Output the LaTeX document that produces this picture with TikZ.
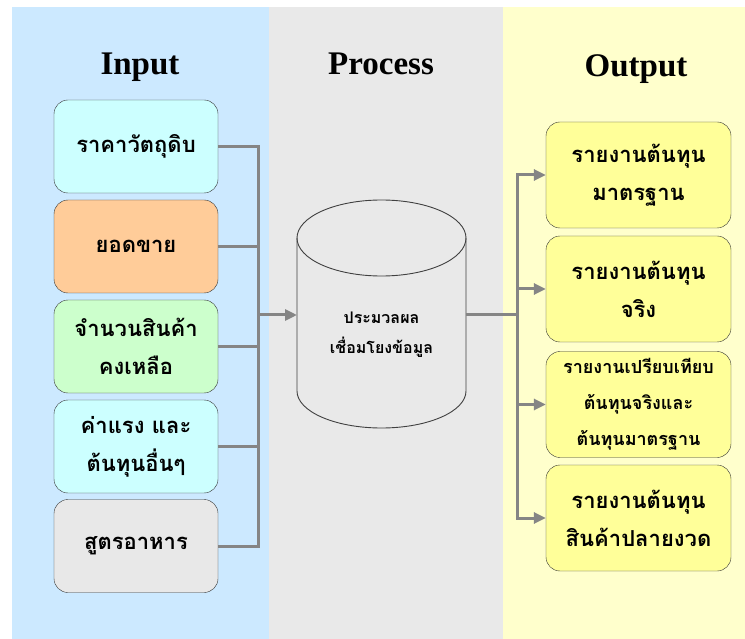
\documentclass[tikz,border=0pt]{standalone}
\usepackage{fontspec}
\setmainfont{Liberation Serif}
\newfontfamily\thaifont[Script=Thai]{Loma}
\usetikzlibrary{arrows.meta}
\definecolor{inbg}{HTML}{CCE9FF}
\definecolor{procbg}{HTML}{E9E9E9}
\definecolor{outbg}{HTML}{FFFFCC}
\definecolor{cyanbox}{HTML}{CCFFFF}
\definecolor{orangebox}{HTML}{FFCC99}
\definecolor{greenbox}{HTML}{CCFFCC}
\definecolor{graybox}{HTML}{E8E8E8}
\definecolor{yellowbox}{HTML}{FFFF99}
\definecolor{connline}{HTML}{858585}
\begin{document}
\begin{tikzpicture}[x=1pt,y=-1pt,
  every node/.style={inner sep=1mm},
  title/.style={anchor=base,font=\fontsize{33}{36}\selectfont\bfseries},
  inbox/.style={draw=black!80,rounded corners=14pt,minimum width=164pt,minimum height=93pt,align=center,font=\thaifont\bfseries\fontsize{22}{38}\selectfont},
  outbox/.style={inbox,fill=yellowbox,minimum width=185pt,minimum height=106pt},
  cylline/.style={draw=black!75,line width=0.9pt},
  conn/.style={connline,line width=3pt},
  tip/.style={-{Triangle[length=12pt,width=11pt]}}]
  \fill [white] (0,0) rectangle (745,639);
  \fill [inbg] (12,7) rectangle (269,639);
  \fill [procbg] (269,7) rectangle (503,639);
  \fill [outbg] (503,7) rectangle (745,639);
  \node [title] (tin) at (140,75) {Input};
  \node [title] (tproc) at (381,75) {Process};
  \node [title] (tout) at (636,77) {Output};
  \node [inbox,fill=cyanbox] (in1) at (136,146.5) {ราคาวัตถุดิบ};
  \node [inbox,fill=orangebox] (in2) at (136,246.5) {ยอดขาย};
  \node [inbox,fill=greenbox] (in3) at (136,346.5) {จำนวนสินค้า\\คงเหลือ};
  \node [inbox,fill=cyanbox] (in4) at (136,446.5) {ค่าแรง และ\\ต้นทุนอื่นๆ};
  \node [inbox,fill=graybox] (in5) at (136,546) {สูตรอาหาร};
  \draw [cylline] (297,238) -- (297,391) arc [start angle=180,end angle=0,x radius=84.5,y radius=37] -- (466,238);
  \draw [cylline] (381.5,238) ellipse [x radius=84.5,y radius=38];
  \node [align=center,font=\thaifont\bfseries\fontsize{16}{30}\selectfont] (db) at (381.5,335) {ประมวลผล\\เชื่อมโยงข้อมูล};
  \coordinate (dbw) at (297,315);
  \coordinate (dbe) at (466,315);
  \node [outbox] (out1) at (638.5,175) {รายงานต้นทุน\\มาตรฐาน};
  \node [outbox] (out2) at (638.5,289) {รายงานต้นทุน\\จริง};
  \node [outbox,font=\thaifont\bfseries\fontsize{18}{36}\selectfont] (out3) at (638.5,404.5) {รายงานเปรียบเทียบ\\ต้นทุนจริงและ\\ต้นทุนมาตรฐาน};
  \node [outbox] (out4) at (638.5,518) {รายงานต้นทุน\\สินค้าปลายงวด};
  \coordinate (inbus) at (258,315);
  \coordinate (outbus) at (517,315);
  \foreach \i in {1,...,5}
    \draw [conn] (in\i.east) -| (inbus);
  \draw [conn,tip] (inbus) -- (dbw);
  \draw [conn] (dbe) -- (outbus);
  \foreach \i in {1,...,4}
    \draw [conn,tip] (outbus) |- (out\i.west);
\end{tikzpicture}
\end{document}
